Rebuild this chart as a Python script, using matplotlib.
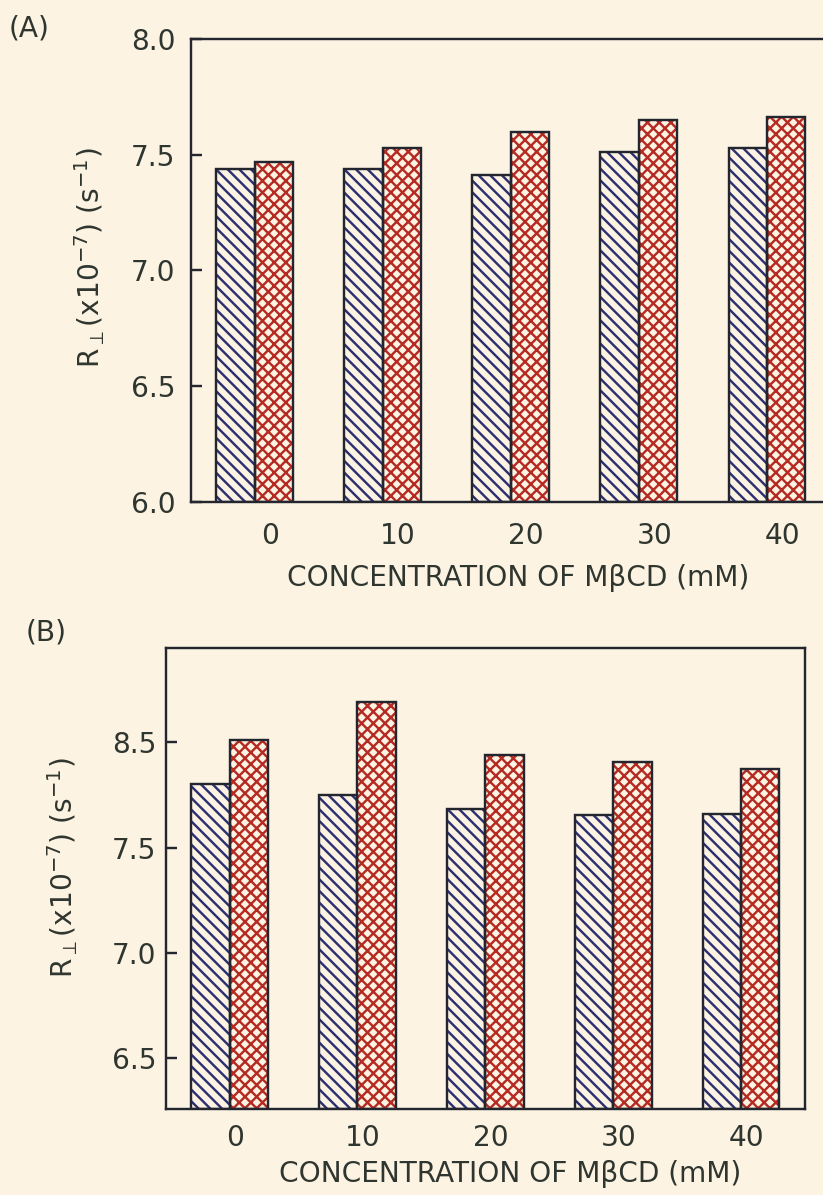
import numpy as np
import matplotlib
matplotlib.use("Agg")
import matplotlib.pyplot as plt

# Concentration of methyl-beta-cyclodextrin (mM)
concentrations = ["0", "10", "20", "30", "40"]

# Panel A: perpendicular relaxation rate R_perp (x10^-7 s^-1)
a_series1 = [7.44, 7.44, 7.41, 7.51, 7.53]
a_series2 = [7.47, 7.53, 7.60, 7.65, 7.665]

# Panel B
b_series1 = [7.80, 7.75, 7.685, 7.655, 7.66]
b_series2 = [8.01, 8.19, 7.94, 7.905, 7.875]
b_ticks = [6.5, 7.0, 7.5, 8.0]
b_ticklabels = ["6.5", "7.0", "7.5", "8.5"]

a_ticks = [6.0, 6.5, 7.0, 7.5, 8.0]
a_ticklabels = ["6.0", "6.5", "7.0", "7.5", "8.0"]

W, H, DPI = 823, 1195, 140
BG = "#fcf3e2"
TXT = "#2f352f"
EDGE = "#23262e"
BLUE = "#2c2f72"
RED = "#b52a22"


def pt(px):
    """Convert a size in output pixels to points."""
    return px * 72.0 / DPI


FS = pt(28)

plt.rcParams["hatch.linewidth"] = pt(2.4)
plt.rcParams["font.family"] = ["DejaVu Sans"]
plt.rcParams["mathtext.fontset"] = "dejavusans"

fig = plt.figure(figsize=(W / DPI, H / DPI), dpi=DPI, facecolor=BG)


def px_axes(left, top, right, bottom):
    return fig.add_axes([left / W, 1 - bottom / H, (right - left) / W, (bottom - top) / H])


def draw_bars(ax, s1, s2, ymin):
    x = np.arange(len(concentrations))
    w = 0.30
    for vals, off, col, hatch in ((s1, -w / 2, BLUE, "\\\\\\\\"), (s2, w / 2, RED, "xxxx")):
        h = np.asarray(vals) - ymin
        ax.bar(x + off, h, w, bottom=ymin, color="none", edgecolor=col,
               hatch=hatch, linewidth=0, zorder=2)
        ax.bar(x + off, h, w, bottom=ymin, fill=False, edgecolor=EDGE,
               linewidth=pt(2.4), zorder=3)
    return x


def style(ax, ylim, ticks, labels, ypad, xpad, label_shift):
    ax.set_facecolor(BG)
    ax.set_xlim(-0.5, 4.5)
    ax.set_ylim(*ylim)
    for s in ax.spines.values():
        s.set_linewidth(pt(2.4))
        s.set_color(EDGE)
    ax.set_yticks(ticks)
    ax.set_yticklabels(labels)
    x = np.arange(len(concentrations))
    ax.set_xticks(x + label_shift)
    ax.set_xticklabels(concentrations)
    ax.tick_params(axis="y", direction="in", length=pt(11), width=pt(2.4), color=EDGE,
                   labelsize=FS, labelcolor=TXT, pad=pt(ypad))
    ax.tick_params(axis="x", length=0, labelsize=FS, labelcolor=TXT, pad=pt(xpad))


ylab = r"R$_{\perp}$(x10$^{-7}$) (s$^{-1}$)"
xlab = "CONCENTRATION OF M\u03b2CD (mM)"

# Panel A
axA = px_axes(190.7, 39, 831, 501.7)
draw_bars(axA, a_series1, a_series2, 6.0)
style(axA, (6.0, 8.0), a_ticks, a_ticklabels, 15, 20, 0.12)
fig.text(90 / W, 1 - 258 / H, ylab, rotation=90, ha="center", va="center",
         fontsize=FS, color=TXT)
fig.text(518 / W, 1 - 578 / H, xlab, ha="center", va="center", fontsize=FS, color=TXT)
fig.text(9 / W, 1 - 29 / H, "(A)", ha="left", va="center", fontsize=FS, color=TXT)

# Panel B
axB = px_axes(165.7, 648, 805, 1109)
draw_bars(axB, b_series1, b_series2, 6.26)
style(axB, (6.26, 8.447), b_ticks, b_ticklabels, 9, 15, 0.04)
fig.text(63 / W, 1 - 868 / H, ylab, rotation=90, ha="center", va="center",
         fontsize=FS, color=TXT)
fig.text(510 / W, 1 - 1174 / H, xlab, ha="center", va="center", fontsize=FS, color=TXT)
fig.text(26 / W, 1 - 632 / H, "(B)", ha="left", va="center", fontsize=FS, color=TXT)

fig.savefig("out.png", dpi=DPI, facecolor=BG)
